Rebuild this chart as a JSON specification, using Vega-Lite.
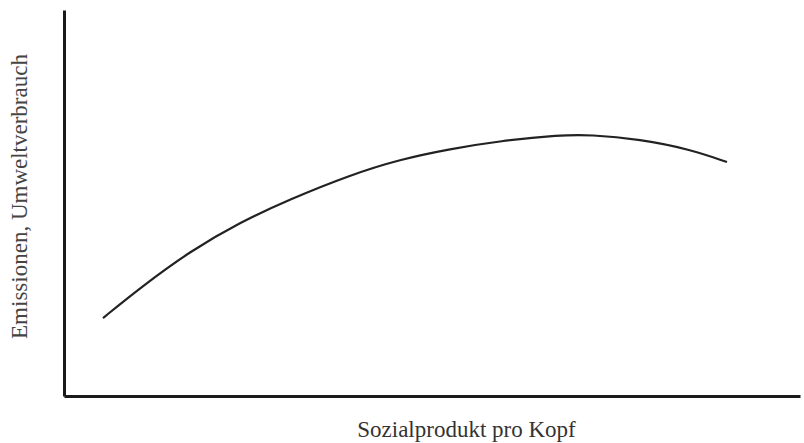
{
  "$schema": "https://vega.github.io/schema/vega-lite/v6.json",
  "width": 736,
  "height": 386,
  "autosize": "none",
  "padding": {"left": 64, "top": 10, "right": 4, "bottom": 47},
  "background": "white",
  "config": {"view": {"stroke": null}},
  "data": {"values": [
    {"x": 5.3, "y": 20.2},
    {"x": 10.33, "y": 28.0},
    {"x": 17.12, "y": 37.5},
    {"x": 23.91, "y": 45.0},
    {"x": 30.71, "y": 51.0},
    {"x": 38.86, "y": 57.25},
    {"x": 45.65, "y": 61.3},
    {"x": 52.45, "y": 64.0},
    {"x": 59.24, "y": 66.1},
    {"x": 67.39, "y": 67.6},
    {"x": 71.47, "y": 67.7},
    {"x": 78.26, "y": 66.5},
    {"x": 85.05, "y": 63.9},
    {"x": 90.08, "y": 60.6}
  ]},
  "mark": {"type": "line", "interpolate": "basis", "color": "#222222", "strokeWidth": 2.2},
  "encoding": {
    "x": {
      "field": "x", "type": "quantitative",
      "scale": {"domain": [0, 100], "nice": false},
      "axis": {
        "title": "Sozialprodukt pro Kopf",
        "ticks": false, "labels": false, "grid": false,
        "domainColor": "#1a1a1a", "domainWidth": 3,
        "titleFont": "Liberation Serif", "titleFontSize": 23, "titleFontWeight": "normal",
        "titleColor": "#333333",
        "titleX": 402, "titleY": 40, "titleBaseline": "alphabetic", "titleAlign": "center"
      }
    },
    "y": {
      "field": "y", "type": "quantitative",
      "scale": {"domain": [0, 100], "nice": false},
      "axis": {
        "title": "Emissionen, Umweltverbrauch",
        "ticks": false, "labels": false, "grid": false,
        "domainColor": "#1a1a1a", "domainWidth": 3,
        "titleFont": "Liberation Serif", "titleFontSize": 23, "titleFontWeight": "normal",
        "titleColor": "#444444",
        "titleX": -38, "titleY": 186, "titleAngle": -90, "titleBaseline": "alphabetic", "titleAlign": "center"
      }
    }
  }
}
